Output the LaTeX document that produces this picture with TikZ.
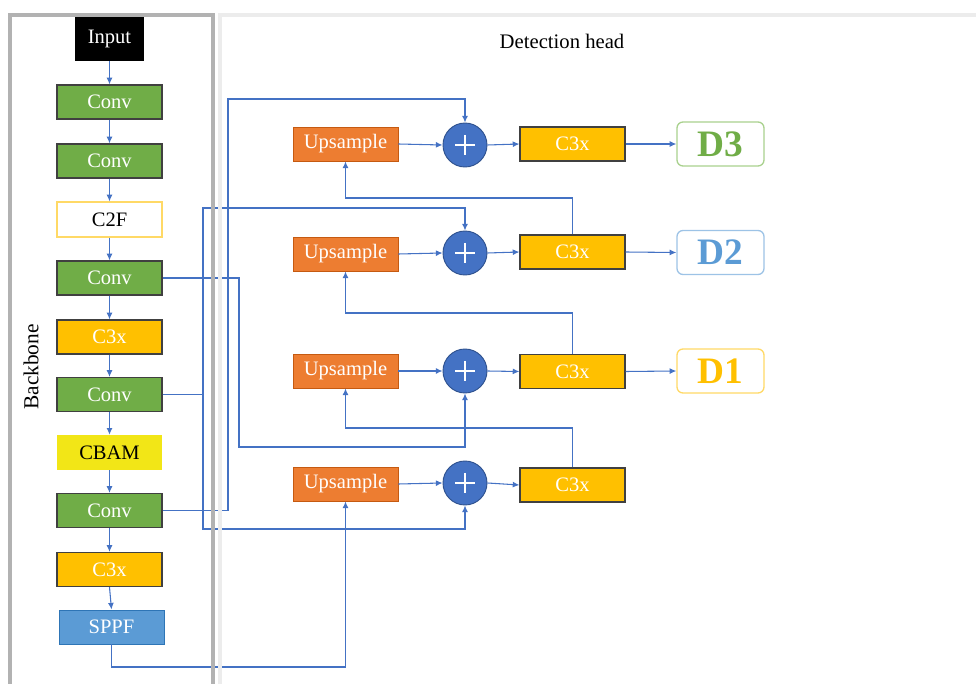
\documentclass[tikz,border=0pt]{standalone}
\usepackage{fontspec}
\setmainfont{Liberation Serif}
\usetikzlibrary{arrows.meta,calc}
\definecolor{lineblue}{HTML}{4472C4}
\definecolor{convgreen}{HTML}{70AD47}
\definecolor{cgold}{HTML}{FFC000}
\definecolor{uporange}{HTML}{ED7D31}
\definecolor{uporangeb}{HTML}{C55A11}
\definecolor{plusblue}{HTML}{4472C4}
\definecolor{plusblueb}{HTML}{2F528F}
\definecolor{sppfblue}{HTML}{5B9BD5}
\definecolor{sppfblueb}{HTML}{2E75B6}
\definecolor{cbamyellow}{HTML}{F2E617}
\definecolor{c2fborder}{HTML}{FFD966}
\definecolor{dgreen}{HTML}{70AD47}
\definecolor{dgreenb}{HTML}{A9D18E}
\definecolor{dblue}{HTML}{5B9BD5}
\definecolor{dblueb}{HTML}{9DC3E6}
\definecolor{dgold}{HTML}{FFC000}
\definecolor{dgoldb}{HTML}{FFD966}
\begin{document}
\begin{tikzpicture}[x=0.75pt,y=-0.75pt,
  lbl/.style={font=\fontsize{15.4}{18}\selectfont},
  box/.style={lbl,rectangle,inner sep=0pt,minimum width=78.75pt,minimum height=25.5pt},
  convbox/.style={box,fill=convgreen,draw=black!75,line width=0.9pt,text=white},
  goldbox/.style={box,fill=cgold,draw=black!75,line width=0.9pt,text=white},
  upbox/.style={box,fill=uporange,draw=uporangeb,line width=0.7pt,text=white},
  plusnode/.style={circle,inner sep=0pt,minimum size=33pt,fill=plusblue,draw=plusblueb,line width=0.7pt,
    path picture={\draw[white,line width=1.1pt]
      ($(path picture bounding box.center)+(-10,0)$) -- ($(path picture bounding box.center)+(10,0)$)
      ($(path picture bounding box.center)+(0,-10)$) -- ($(path picture bounding box.center)+(0,10)$);}},
  dbox/.style={rectangle,rounded corners=4.5pt,inner sep=0pt,minimum width=65.25pt,minimum height=33pt,
    fill=white,line width=1pt,font=\fontsize{28}{30}\selectfont\bfseries},
  arr/.style={draw=lineblue,line width=0.8pt,-{Latex[length=5pt,width=4.5pt]}}
]
\useasboundingbox (0,0) rectangle (976,684);
\clip (0,0) rectangle (976,684);

% backbone nodes
\node[lbl,rectangle,inner sep=0pt,minimum width=51.75pt,minimum height=33pt,fill=black,text=white] (in) at (109.5,39) {Input};
\node[convbox] (c1) at (109.5,102) {Conv};
\node[convbox] (c2) at (109.5,161) {Conv};
\node[box,fill=white,draw=c2fborder,line width=0.9pt,minimum height=26.25pt] (c2f) at (109.5,219.5) {C2F};
\node[convbox] (c3) at (109.5,278) {Conv};
\node[goldbox] (c3xa) at (109.5,337) {C3x};
\node[convbox] (c4) at (109.5,394.5) {Conv};
\node[box,fill=cbamyellow,minimum height=26.25pt] (cbam) at (109.5,452.5) {CBAM};
\node[convbox] (c5) at (109.5,510.5) {Conv};
\node[goldbox] (c3xb) at (109.5,569.5) {C3x};
\node[box,fill=sppfblue,draw=sppfblueb,line width=0.7pt,text=white] (sppf) at (111.5,627) {SPPF};

% head nodes
\node[upbox] (up1) at (345.5,144) {Upsample};
\node[upbox] (up2) at (345.5,254) {Upsample};
\node[upbox] (up3) at (345.5,371) {Upsample};
\node[upbox] (up4) at (345.5,484) {Upsample};
\node[plusnode] (p1) at (465,145) {};
\node[plusnode] (p2) at (465,253) {};
\node[plusnode] (p3) at (465,371) {};
\node[plusnode] (p4) at (465,483) {};
\node[goldbox] (h1) at (572.5,144) {C3x};
\node[goldbox] (h2) at (572.5,252) {C3x};
\node[goldbox] (h3) at (572.5,371.5) {C3x};
\node[goldbox] (h4) at (572.5,485) {C3x};
\node[dbox,draw=dgreenb,text=dgreen] (d3) at (720.5,144) {D3};
\node[dbox,draw=dblueb,text=dblue] (d2) at (720.5,252.5) {D2};
\node[dbox,draw=dgoldb,text=dgold] (d1) at (720.5,371) {D1};

% labels
\node[font=\fontsize{16}{18}\selectfont,rotate=90] (bbl) at (31,367) {Backbone};
\node[font=\fontsize{15.5}{18}\selectfont] (dhl) at (562,41) {Detection head};

% routing coordinates
\coordinate (s1) at (345.5,667);
\coordinate (k5) at (228,99);
\coordinate (k4a) at (203,208);
\coordinate (k4b) at (203,529);
\coordinate (k3) at (239,447);
\coordinate (f2) at (572.5,198);
\coordinate (f3) at (572.5,313);
\coordinate (f4) at (572.5,428);

% backbone arrows
\foreach \a/\b in {in/c1,c1/c2,c2/c2f,c2f/c3,c3/c3xa,c3xa/c4,c4/cbam,cbam/c5,c5/c3xb,c3xb/sppf}
  \draw[arr] (\a.south) -- (\b.north);

% skip connections
\draw[arr] (sppf.south) |- (s1) -- (up4.south);
\draw[arr] (c5.east) -| (k5) -| (p1.north);
\draw[arr] (c4.east) -| (k4a) -| (p2.north);
\draw[arr] (c4.east) -| (k4b) -| (p4.south);
\draw[arr] (c3.east) -| (k3) -| (p3.south);

% head flow
\foreach \i in {1,2,3,4} {
  \draw[arr] (up\i.east) -- (p\i.west);
  \draw[arr] (p\i.east) -- (h\i.west);
}
\draw[arr] (h1.east) -- (d3.west);
\draw[arr] (h2.east) -- (d2.west);
\draw[arr] (h3.east) -- (d1.west);
\draw[arr] (h2.north) -- (f2) -| (up1.south);
\draw[arr] (h3.north) -- (f3) -| (up2.south);
\draw[arr] (h4.north) -- (f4) -| (up3.south);

% frames
\draw[gray!15,line width=3.5pt] (220,700) -- (220,15) -- (990,15);
\draw[gray!60,line width=2.5pt] (10,700) -- (10,15) -- (213,15) -- (213,700);
\end{tikzpicture}
\end{document}
